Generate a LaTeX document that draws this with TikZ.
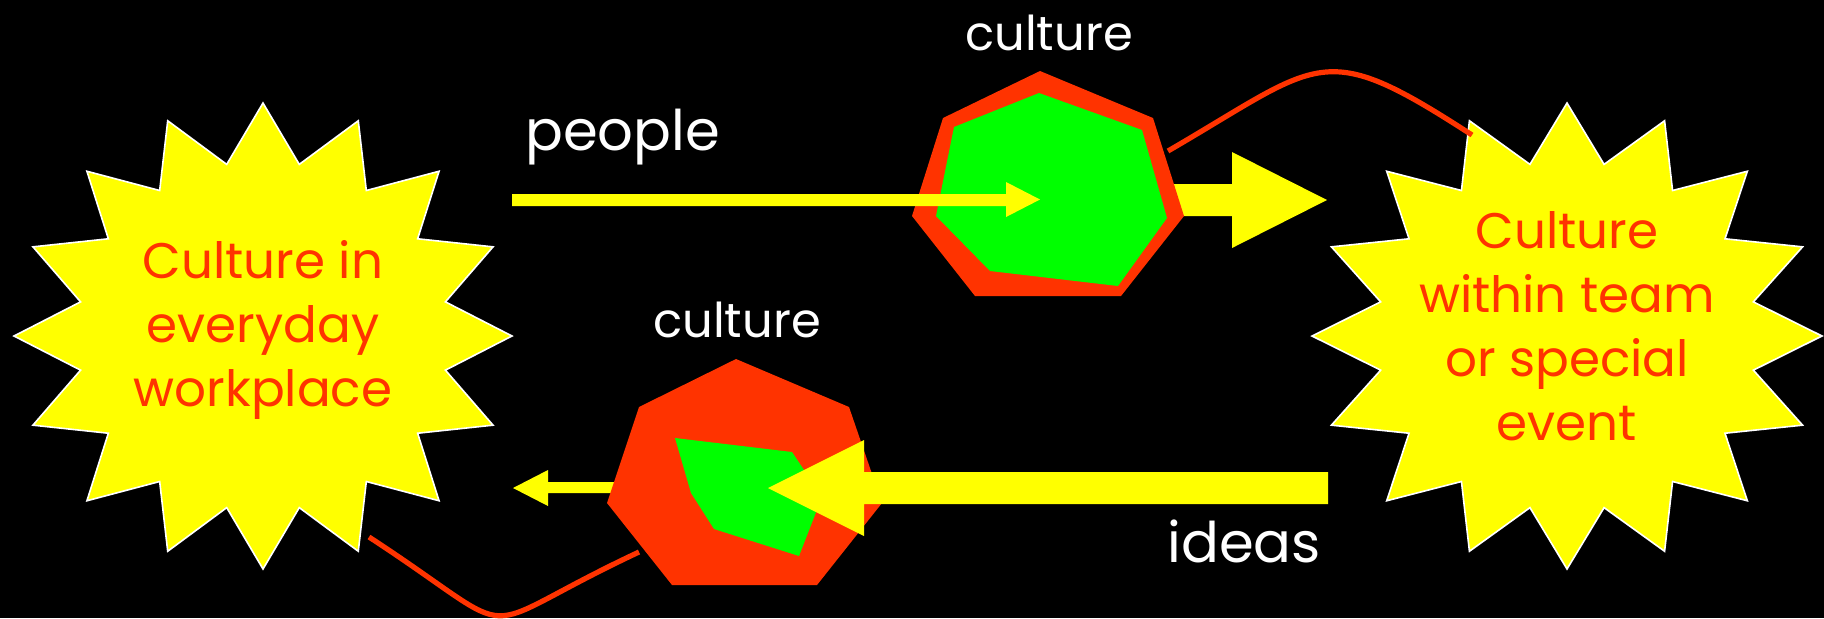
\documentclass[tikz,border=0pt]{standalone}
\usepackage{fontspec}
\setmainfont{Poppins}
\definecolor{cred}{RGB}{255,51,0}
\definecolor{cyellow}{RGB}{255,255,0}
\definecolor{cgreen}{RGB}{0,255,0}
\begin{document}
\begin{tikzpicture}[x=0.5pt,y=-0.5pt,
  burst/.style={fill=cyellow, draw=white, line width=0.8pt, line join=miter},
  redpoly/.style={fill=cred},
  greenpoly/.style={fill=cgreen},
  yarrow/.style={fill=cyellow},
  link/.style={draw=cred, line width=2.6pt},
  lbl/.style={text=white, font=\fontsize{24}{28}\selectfont, inner sep=0pt},
  burstlbl/.style={text=cred, align=center, font=\fontsize{25}{32}\selectfont, inner sep=0pt},
  word/.style={text=white, font=\fontsize{28}{34}\selectfont, inner sep=0pt}]
\fill[black] (0,0) rectangle (1824,618);
\useasboundingbox (0,0) rectangle (1824,618);

% starbursts
\coordinate (burstL) at (263,336);
\coordinate (burstR) at (1567,336);
\path[burst, shift={(burstL)}] (0,-233)
  \foreach \k in {0,...,15}{ -- ({186*sin(\k*22.5+11.25)},{-175*cos(\k*22.5+11.25)}) -- ({249*sin(\k*22.5+22.5)},{-233*cos(\k*22.5+22.5)}) } -- cycle;
\path[burst, shift={(burstR)}] (0,-233)
  \foreach \k in {0,...,15}{ -- ({190*sin(\k*22.5+11.25)},{-175*cos(\k*22.5+11.25)}) -- ({255*sin(\k*22.5+22.5)},{-233*cos(\k*22.5+22.5)}) } -- cycle;

% arrows drawn beneath the heptagons
\fill[yarrow] (1150,184) -- (1232,184) -- (1232,152) -- (1327,200) -- (1232,248) -- (1232,216) -- (1150,216) -- cycle;
\fill[yarrow] (620,482) -- (548,482) -- (548,470) -- (513,488) -- (548,506) -- (548,493) -- (620,493) -- cycle;

% top heptagon
\fill[redpoly] (1040,71) -- (1153,118) -- (1184,216) -- (1121,296) -- (975,296) -- (912,216) -- (943,118) -- cycle;
\fill[greenpoly] (1039,93) -- (1142,130) -- (1167,218) -- (1118,286) -- (990,271) -- (936,216) -- (954,127) -- cycle;

% lower heptagon
\fill[redpoly] (736,359) -- (849,407) -- (882,503) -- (817,585) -- (672,585) -- (607,503) -- (639,407) -- cycle;
\fill[greenpoly] (675,438) -- (792,452) -- (822,497) -- (799,556) -- (714,529) -- (691,493) -- cycle;

% arrows drawn on top
\fill[yarrow] (512,194) -- (1006,194) -- (1006,182) -- (1040,199.5) -- (1006,217) -- (1006,206) -- (512,206) -- cycle;
\fill[yarrow] (1328,472) -- (864,472) -- (864,440) -- (768,488) -- (864,536) -- (864,504) -- (1328,504) -- cycle;

% red connectors
\coordinate (topA) at (1168,151);
\coordinate (topB) at (1472,135);
\coordinate (botA) at (369,537);
\coordinate (botB) at (639,552);
\draw[link] (topA) .. controls (1323,61) and (1321,37) .. (topB);
\draw[link] (botA) .. controls (533,644) and (462,635) .. (botB);

% texts
\node[burstlbl] (txtL) at (263,330) {Culture in\\everyday\\workplace};
\node[burstlbl] (txtR) at (1567,326) {Culture\\within team\\or special\\event};
\node[lbl, anchor=base] (cultop) at (1049,50) {culture};
\node[lbl, anchor=base] (culbot) at (737,337) {culture};
\node[word, anchor=base west] (people) at (525,150) {people};
\node[word, anchor=base west] (ideas) at (1167,562) {ideas};
\end{tikzpicture}
\end{document}
